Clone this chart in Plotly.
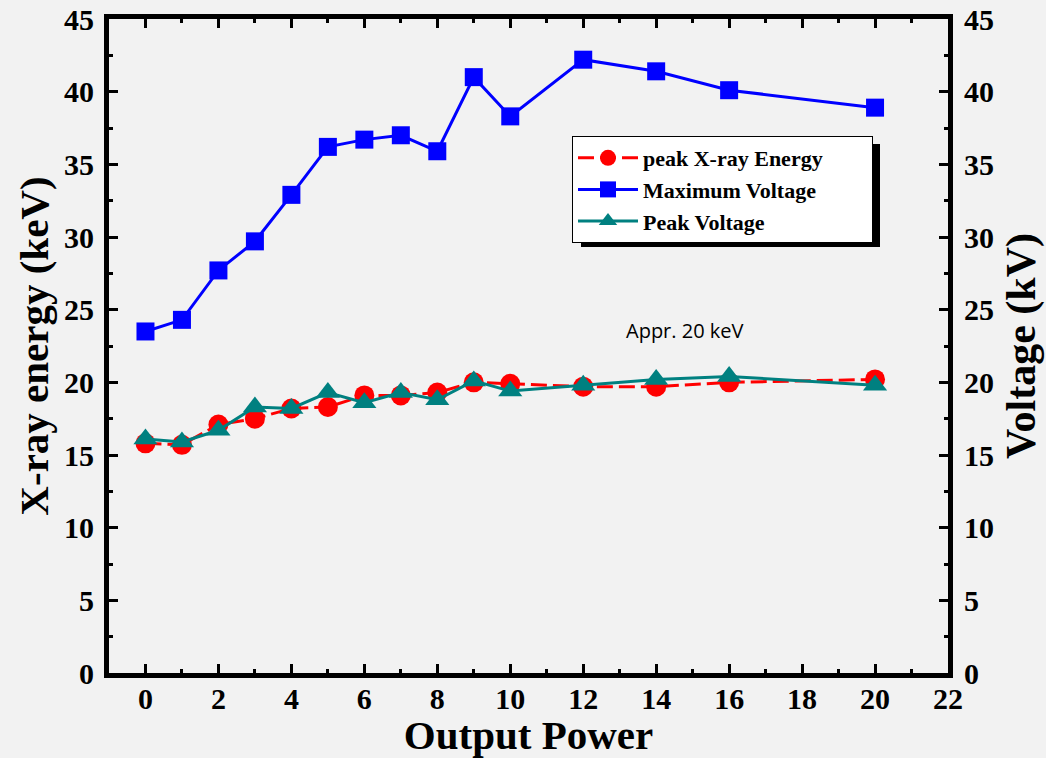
import plotly.graph_objects as go

x_power = [0, 1, 2, 3, 4, 5, 6, 7, 8, 9, 10, 12, 14, 16, 20]
peak_xray_energy = [15.8, 15.7, 17.1, 17.5, 18.2, 18.3, 19.1, 19.1, 19.3, 20.0, 19.9, 19.7, 19.7, 20.0, 20.2]
maximum_voltage = [23.5, 24.3, 27.7, 29.7, 32.9, 36.2, 36.7, 37.0, 35.9, 41.0, 38.3, 42.2, 41.4, 40.1, 38.9]
peak_voltage = [16.1, 15.9, 16.7, 18.3, 18.2, 19.3, 18.6, 19.3, 18.8, 20.1, 19.4, 19.8, 20.2, 20.4, 19.8]
series_names = ["peak X-ray Energy", "Maximum Voltage", "Peak Voltage"]

SERIF = "Liberation Serif"
BG = "#f2f2f2"
PAD = "\u00a0" * 8  # widen the legend box like the reference

fig = go.Figure()
fig.add_trace(go.Scatter(
    x=x_power, y=peak_xray_energy, name=series_names[0] + PAD, mode="lines+markers",
    line=dict(color="#ff0000", width=3, dash="16px,6px"),
    marker=dict(symbol="circle", size=20, color="#ff0000"),
))
fig.add_trace(go.Scatter(
    x=x_power, y=maximum_voltage, name=series_names[1], mode="lines+markers",
    line=dict(color="#0000ff", width=3),
    marker=dict(symbol="square", size=18, color="#0000ff"),
    yaxis="y2",
))
fig.add_trace(go.Scatter(
    x=x_power, y=peak_voltage, name=series_names[2], mode="lines+markers",
    line=dict(color="#008080", width=3),
    marker=dict(symbol="triangle-up", size=21, color="#008080"),
    yaxis="y2",
))

tickfont = dict(family=SERIF, size=30, color="black", weight="bold")
axis_common = dict(
    showline=True, linecolor="black", linewidth=5,
    ticks="inside", ticklen=9, tickwidth=3, tickcolor="black",
    showgrid=False, zeroline=False, tickfont=tickfont, automargin=False,
)
minor_common = dict(ticks="inside", ticklen=4, tickwidth=3, tickcolor="black")

L, R, T, B = 109, 98, 19, 85
PW, PH = 1046 - L - R, 758 - T - B

def px_x(p):
    return (p - L) / PW

def px_y(p):
    return (758 - B - p) / PH

fig.update_layout(
    width=1046, height=758,
    margin=dict(l=L, r=R, t=T, b=B, autoexpand=False),
    paper_bgcolor=BG, plot_bgcolor=BG,
    showlegend=True,
    xaxis=dict(
        range=[-1, 22], dtick=2, tick0=0, mirror="ticks",
        minor=dict(dtick=1, **minor_common),
        ticklabelstandoff=-5,
        title=dict(text="Output Power", font=dict(family=SERIF, size=41, color="black", weight="bold"), standoff=8),
        **axis_common,
    ),
    yaxis=dict(
        range=[0, 45], dtick=5, tick0=0,
        minor=dict(dtick=2.5, **minor_common),
        ticklabelstandoff=4,
        title=dict(text="X-ray energy (keV)", font=dict(family=SERIF, size=41, color="black", weight="bold"), standoff=4),
        **axis_common,
    ),
    yaxis2=dict(
        range=[0, 45], dtick=5, tick0=0, overlaying="y", side="right",
        minor=dict(dtick=2.5, **minor_common),
        ticklabelstandoff=5,
        title=dict(text="Voltage (kV)", font=dict(family=SERIF, size=42, color="black", weight="bold"), standoff=14),
        **axis_common,
    ),
    legend=dict(
        x=px_x(572), y=px_y(136), xanchor="left", yanchor="top",
        bgcolor="white", bordercolor="black", borderwidth=1,
        font=dict(family=SERIF, size=22, color="black", weight="bold"),
        itemwidth=60, tracegroupgap=0,
    ),
    shapes=[dict(
        type="rect", xref="paper", yref="paper",
        x0=px_x(581), x1=px_x(880),
        y0=px_y(247), y1=px_y(144),
        fillcolor="black", line=dict(width=0), layer="above",
    )],
    annotations=[dict(
        x=14.8, y=23.6, xref="x", yref="y", text="Appr. 20 keV", showarrow=False,
        font=dict(family="Open Sans", size=20, color="black"),
    )],
)

fig.write_html("out.html")
